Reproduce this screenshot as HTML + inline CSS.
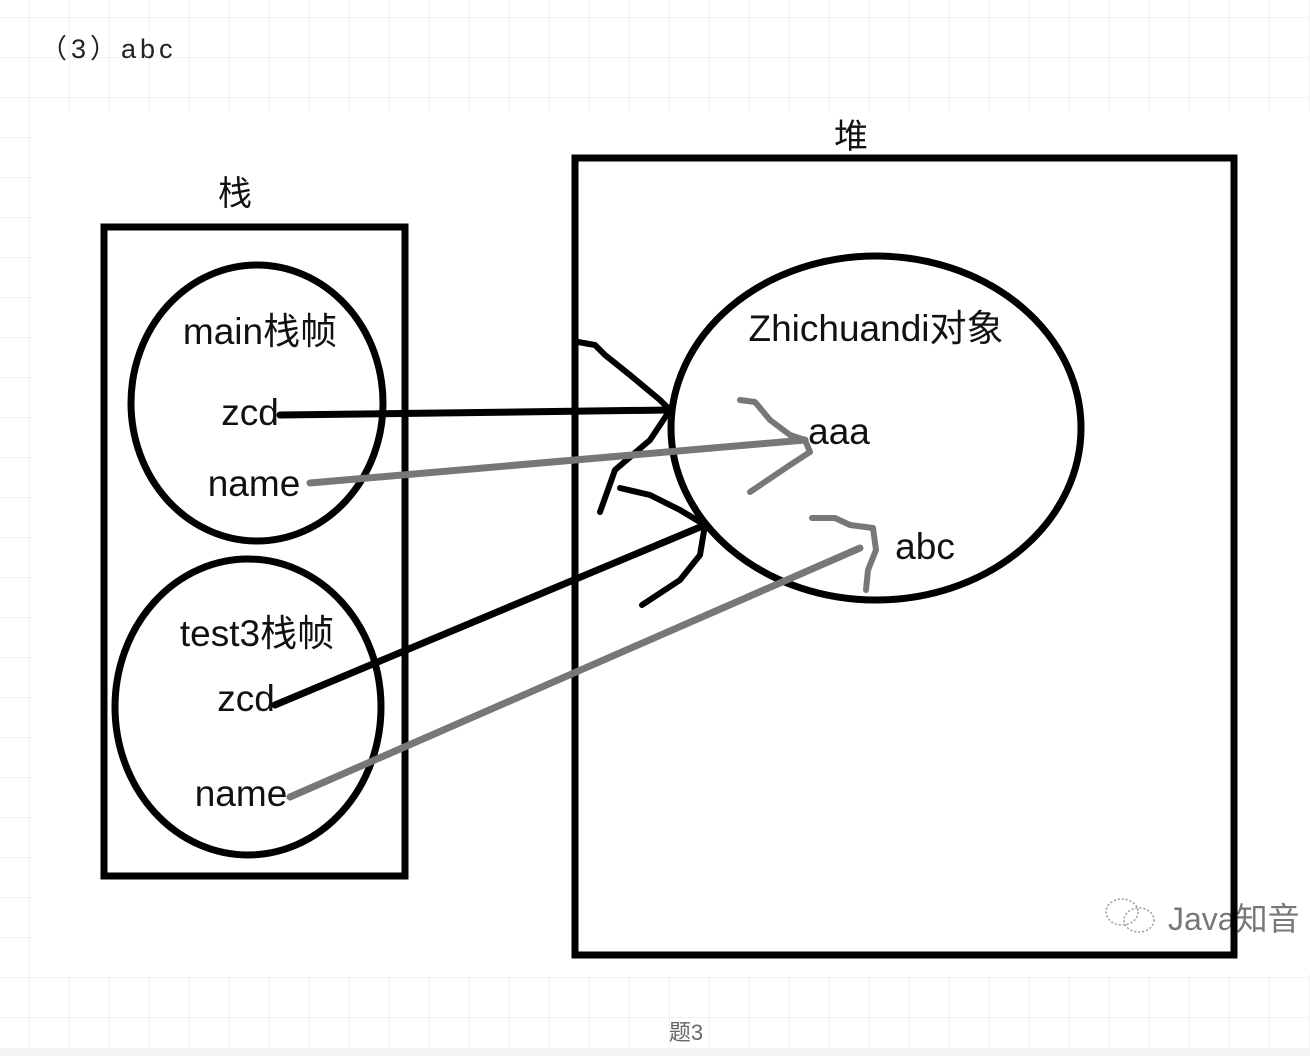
<!DOCTYPE html>
<html><head><meta charset="utf-8"><style>
html,body{margin:0;padding:0;width:1310px;height:1056px;overflow:hidden;background:#fff}
svg{display:block}
</style></head><body>
<svg width="1310" height="1056" xmlns="http://www.w3.org/2000/svg">
<defs>
<pattern id="g" x="29" y="17" width="40" height="40" patternUnits="userSpaceOnUse">
<path d="M0 0V40M0 0H40" stroke="#ece6ea" stroke-width="1" fill="none"/>
</pattern>
</defs>
<rect width="1310" height="1056" fill="url(#g)"/>
<rect x="32" y="112" width="1278" height="863" fill="#fff"/>
<rect x="0" y="1048" width="1310" height="8" fill="#f4f4f4"/>
<text x="40" y="58" font-family="'Liberation Sans','Noto Sans CJK SC',sans-serif" font-size="27" fill="#222" letter-spacing="4">（3）abc</text>
<text x="686" y="1040" text-anchor="middle" font-family="'Liberation Sans','Noto Sans CJK SC',sans-serif" font-size="22" fill="#666">题3</text>

<g font-family="'Liberation Sans','Noto Sans CJK SC',sans-serif" fill="#111">
<text x="235" y="205" font-size="34" text-anchor="middle">栈</text>
<text x="851" y="148" font-size="34" text-anchor="middle">堆</text>
<text x="260" y="344" font-size="37" text-anchor="middle">main栈帧</text>
<text x="250" y="425" font-size="37" text-anchor="middle">zcd</text>
<text x="254" y="496" font-size="37" text-anchor="middle">name</text>
<text x="257" y="646" font-size="37" text-anchor="middle">test3栈帧</text>
<text x="246" y="711" font-size="37" text-anchor="middle">zcd</text>
<text x="241" y="806" font-size="37" text-anchor="middle">name</text>
<text x="876" y="341" font-size="37" text-anchor="middle">Zhichuandi对象</text>
<text x="839" y="444" font-size="37" text-anchor="middle">aaa</text>
<text x="925" y="559" font-size="37" text-anchor="middle">abc</text>
</g>
<text x="1168" y="930" font-family="'Liberation Sans','Noto Sans CJK SC',sans-serif" font-size="32" fill="#777">Java知音</text>
<g fill="none" stroke="#999" stroke-width="1.5" stroke-dasharray="2 2">
<ellipse cx="1122" cy="912" rx="16" ry="13"/><ellipse cx="1139" cy="920" rx="15" ry="12"/>
</g>

<g fill="none" stroke="#000" stroke-width="7">
<rect x="104" y="227" width="301" height="649"/>
<rect x="575" y="158" width="659" height="797"/>
<ellipse cx="257" cy="403" rx="126" ry="138"/>
<ellipse cx="248" cy="707" rx="133" ry="148"/>
<ellipse cx="876" cy="428" rx="205" ry="172"/>
</g>
<g fill="none" stroke-linecap="round" stroke-linejoin="round">
<path d="M280 415 L670 410" stroke="#000" stroke-width="7"/>
<path d="M578 342 L595 345 L605 355 L630 375 L660 400 L670 410 L650 440 L615 470 L600 512" stroke="#000" stroke-width="6"/>
<path d="M275 705 L705 525" stroke="#000" stroke-width="7"/>
<path d="M620 488 L650 495 L680 510 L705 525 L700 555 L680 580 L642 605" stroke="#000" stroke-width="6"/>
<path d="M310 483 L805 440" stroke="#777" stroke-width="7"/>
<path d="M740 400 L755 402 L770 420 L790 435 L805 440 L810 452 L790 465 L750 492" stroke="#777" stroke-width="6"/>
<path d="M290 797 L860 548" stroke="#777" stroke-width="7"/>
<path d="M812 518 L835 518 L850 525 L873 528 L876 550 L868 570 L866 590" stroke="#777" stroke-width="6"/>
</g>
</svg>
</body></html>
